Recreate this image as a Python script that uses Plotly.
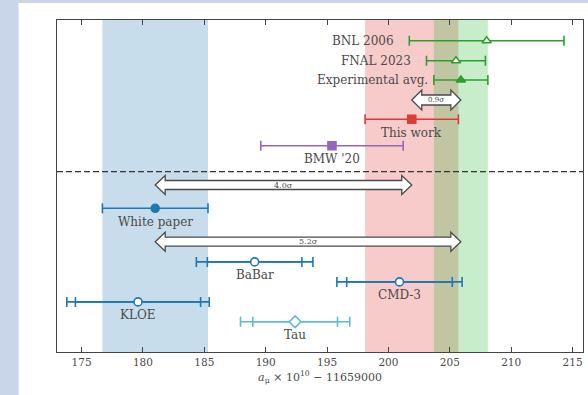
import plotly.graph_objects as go

# ---------------- data ----------------
exp_names = ["BNL 2006", "FNAL 2023", "Experimental avg."]
exp_vals = [208.0, 205.5, 205.9]
exp_errs = [6.3, 2.4, 2.2]

lat_names = ["This work", "BMW '20"]
lat_vals = [201.9, 195.4]
lat_errs = [3.8, 5.8]

wp_name = "White paper"
wp_val = 181.0
wp_err = 4.3

dd_names = ["BaBar", "CMD-3", "KLOE", "Tau"]
dd_vals = [189.1, 200.9, 179.6, 192.4]
dd_err_inner = [3.85, 4.3, 5.1, 3.45]
dd_err_outer = [4.75, 5.1, 5.8, 4.45]

sigma_labels = ["0.9σ", "4.0σ", "5.2σ"]

x_ticks = [175, 180, 185, 190, 195, 200, 205, 210, 215]
x_title = "<i>a</i><sub>μ</sub> × 10<sup>10</sup> − 11659000"

# ---------------- layout / style ----------------
XR = [173.0, 215.85]
PLOT_W = 526
PX = PLOT_W / (XR[1] - XR[0])  # px per data unit
YR = [332, 0]                   # y in px from top of plot area

exp_rows = [20.7, 40.7, 60.0]
lat_rows = [99.3, 125.7]
wp_row = 188.3
dd_rows = [241.9, 261.9, 281.9, 301.7]
arrow_rows = [80.0, 165.0, 221.7]
dash_row = 151.7
label_dy = 13.5

GREEN = "#2ca02c"
RED = "#dc3c36"
PURPLE = "#9467bd"
BLUE = "#1f77b4"
CYAN = "#5bbfc6"
FONT = "DejaVu Serif"
TXT = "#4a4a4a"

fig = go.Figure()

# white card behind the plot (first, so bands draw on top of it)
fig.add_shape(type="rect", xref="paper", yref="paper", x0=-0.073, x1=1.05, y0=-0.3, y1=1.051,
              fillcolor="white", line_width=0, layer="below")

def add_point(x, y, err, color, symbol, fill, size=8, show_marker=True):
    fig.add_trace(go.Scatter(
        x=[x], y=[y], mode="markers",
        marker=dict(symbol=symbol, size=size,
                    color=fill if show_marker else "rgba(0,0,0,0)",
                    line=dict(color=color if show_marker else "rgba(0,0,0,0)", width=1.6)),
        error_x=dict(type="data", array=[err], color=color, thickness=1.6, width=5),
        showlegend=False, hoverinfo="skip"))

# bands
fig.add_shape(type="rect", xref="x", yref="paper", x0=wp_val - wp_err, x1=wp_val + wp_err,
              y0=0, y1=1, fillcolor="rgba(31,119,180,0.25)", line_width=0, layer="below")
fig.add_shape(type="rect", xref="x", yref="paper", x0=lat_vals[0] - lat_errs[0], x1=lat_vals[0] + lat_errs[0],
              y0=0, y1=1, fillcolor="rgba(225,55,50,0.26)", line_width=0, layer="below")
fig.add_shape(type="rect", xref="x", yref="paper", x0=exp_vals[2] - exp_errs[2], x1=exp_vals[2] + exp_errs[2],
              y0=0, y1=1, fillcolor="rgba(40,185,50,0.26)", line_width=0, layer="below")

# experiments
exp_symbols = ["triangle-up", "triangle-up", "triangle-up"]
exp_fills = ["white", "white", GREEN]
for n, v, e, r, s, f in zip(exp_names, exp_vals, exp_errs, exp_rows, exp_symbols, exp_fills):
    add_point(v, r, e, GREEN, s, f, size=8)
exp_xshift = [-13, -13, -4]
for n, v, e, r, xs in zip(exp_names, exp_vals, exp_errs, exp_rows, exp_xshift):
    fig.add_annotation(x=v - e, y=r, text=n, showarrow=False, xanchor="right", yanchor="middle",
                       xshift=xs, font=dict(family=FONT, size=12, color=TXT))

# lattice
lat_colors = [RED, PURPLE]
for n, v, e, r, c in zip(lat_names, lat_vals, lat_errs, lat_rows, lat_colors):
    add_point(v, r, e, c, "square", c, size=8)
    fig.add_annotation(x=v, y=r + label_dy, text=n, showarrow=False, xanchor="center", yanchor="middle",
                       font=dict(family=FONT, size=12, color=TXT))

# white paper
add_point(wp_val, wp_row, wp_err, BLUE, "circle", BLUE, size=8)
fig.add_annotation(x=wp_val, y=wp_row + label_dy, text=wp_name, showarrow=False, xanchor="center",
                   yanchor="middle", font=dict(family=FONT, size=12, color=TXT))

# data-driven
dd_colors = [BLUE, BLUE, BLUE, CYAN]
dd_symbols = ["circle", "circle", "circle", "diamond"]
for n, v, ei, eo, r, c, s in zip(dd_names, dd_vals, dd_err_inner, dd_err_outer, dd_rows, dd_colors, dd_symbols):
    add_point(v, r, eo, c, s, "white", show_marker=False)
    add_point(v, r, ei, c, s, "white", size=8 if s == "circle" else 9)
    fig.add_annotation(x=v, y=r + label_dy, text=n, showarrow=False, xanchor="center", yanchor="middle",
                       font=dict(family=FONT, size=12, color=TXT))

# dashed separator
fig.add_shape(type="line", xref="paper", yref="y", x0=0, x1=1, y0=dash_row, y1=dash_row,
              line=dict(color="#333", width=1.3, dash="6px,3px"), layer="above")

# double arrows
def block_arrow(xa, xb, yc, label, body=9, head=19, hl_px=10, fsize=8):
    hl = hl_px / PX
    bt, bb = yc - body / 2, yc + body / 2
    ht, hb = yc - head / 2, yc + head / 2
    pts = [(xa, yc), (xa + hl, ht), (xa + hl, bt), (xb - hl, bt), (xb - hl, ht), (xb, yc),
           (xb - hl, hb), (xb - hl, bb), (xa + hl, bb), (xa + hl, hb)]
    path = "M " + " L ".join(f"{px},{py}" for px, py in pts) + " Z"
    fig.add_shape(type="path", xref="x", yref="y", path=path, fillcolor="white",
                  line=dict(color="#4a4a4a", width=1.3), layer="above")
    fig.add_annotation(x=(xa + xb) / 2, y=yc, text=label, showarrow=False, xanchor="center",
                       yanchor="middle", font=dict(family=FONT, size=fsize, color=TXT))

block_arrow(lat_vals[0], exp_vals[2], arrow_rows[0], sigma_labels[0], body=10, head=20, fsize=7)
block_arrow(wp_val, lat_vals[0], arrow_rows[1], sigma_labels[1])
block_arrow(wp_val, exp_vals[2], arrow_rows[2], sigma_labels[2])

fig.update_layout(
    width=588, height=395,
    margin=dict(l=57, r=5, t=20, b=43),
    paper_bgcolor="#c9d5e8", plot_bgcolor="rgba(0,0,0,0)",
    showlegend=False,
    xaxis=dict(range=XR, tickvals=x_ticks, ticktext=[str(t) for t in x_ticks],
               ticks="inside", ticklen=5, tickcolor="#444", tickwidth=1,
               showline=True, linecolor="#444", linewidth=1, mirror="allticks",
               showgrid=False, zeroline=False, automargin=False,
               tickfont=dict(family=FONT, size=10.5, color=TXT),
               title=dict(text=x_title, font=dict(family=FONT, size=11, color=TXT), standoff=6)),
    yaxis=dict(range=YR, showticklabels=False, ticks="", showgrid=False, zeroline=False,
               showline=True, linecolor="#444", linewidth=1, mirror=True, automargin=False),
)

fig.write_html("out.html", config={"displayModeBar": False},
               post_script="document.body.style.margin='0';")
